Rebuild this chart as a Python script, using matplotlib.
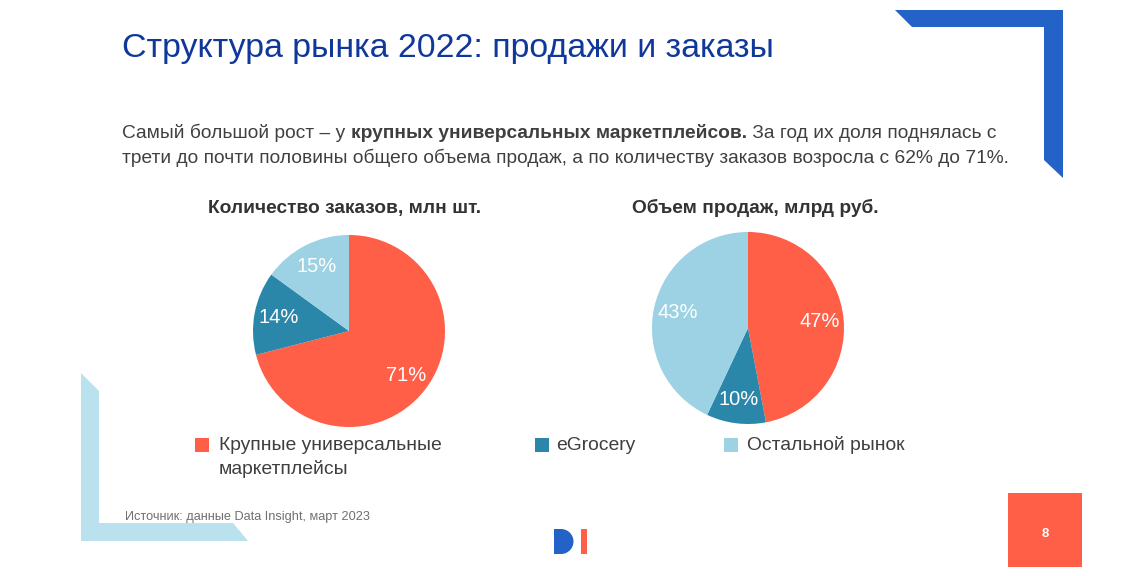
import matplotlib.pyplot as plt
from matplotlib.patches import Polygon, Rectangle, Wedge

W, H = 1122, 576

# данные
segments = ["Крупные универсальные\nмаркетплейсы", "eGrocery", "Остальной рынок"]
orders_share = [71, 14, 15]     # Количество заказов, %
sales_share = [47, 10, 43]      # Объем продаж, %
colors = ["#FF5E47", "#2B87AA", "#9CD2E4"]

title = "Структура рынка 2022: продажи и заказы"
pie_titles = ["Количество заказов, млн шт.", "Объем продаж, млрд руб."]
source = "Источник: данные Data Insight, март 2023"

plt.rcParams['font.family'] = ['Liberation Sans', 'DejaVu Sans']

fig = plt.figure(figsize=(W / 100, H / 100), dpi=100)
fig.patch.set_facecolor("white")

# фоновая ось в пикселях
bg = fig.add_axes([0, 0, 1, 1])
bg.set_xlim(0, W)
bg.set_ylim(H, 0)
bg.axis("off")

# декор: синий уголок справа сверху
bg.add_patch(Polygon([(895, 10), (1063, 10), (1063, 178), (1044, 160), (1044, 27), (912, 27)],
                     closed=True, color="#2362C7", lw=0))
# голубой уголок слева снизу
bg.add_patch(Polygon([(81, 373), (99, 391), (99, 523), (233, 523), (248, 541), (81, 541)],
                     closed=True, color="#B9E1EE", lw=0))

# заголовок и текст
bg.text(122, 48, title, fontsize=24.4, color="#10379A", va="center", ha="left")
tc = "#3F3F3F"
fs = 13.8
line1 = bg.text(122, 133, "Самый большой рост – у ", fontsize=fs, color=tc, va="center")
fig.canvas.draw()
x_bold = 122 + line1.get_window_extent().width
b = bg.text(x_bold, 133, "крупных универсальных маркетплейсов.", fontsize=fs, color=tc,
            va="center", fontweight="bold")
fig.canvas.draw()
x_rest = x_bold + b.get_window_extent().width
bg.text(x_rest, 133, " За год их доля поднялась с", fontsize=fs, color=tc, va="center")
bg.text(122, 158, "трети до почти половины общего объема продаж, а по количеству заказов возросла с 62% до 71%.",
        fontsize=fs, color=tc, va="center")

# подписи графиков
for cx, t in zip([345, 755], pie_titles):
    bg.text(cx, 208, t, fontsize=13.8, color="#333333", fontweight="bold", ha="center", va="center")

# круговые диаграммы
boxes = [(253, 235), (652, 232)]
for (px, py), vals in zip(boxes, [orders_share, sales_share]):
    ax = fig.add_axes([px / W, 1 - (py + 192) / H, 192 / W, 192 / H])
    ax.pie(vals, colors=colors, startangle=90, counterclock=False,
           autopct=lambda p: f"{p:.0f}%", pctdistance=0.75,
           textprops=dict(color="white", fontsize=14.5),
           wedgeprops=dict(linewidth=0))
    ax.set_xlim(-1, 1)
    ax.set_ylim(-1, 1)
    ax.set_aspect("equal")
    ax.axis("off")

# легенда
leg_pos = [(195, 219), (535, 556), (724, 747)]
for (sx, tx), lab, c in zip(leg_pos, segments, colors):
    bg.add_patch(Rectangle((sx, 438), 14, 14, color=c, lw=0))
    if "\n" in lab:
        bg.text(tx, 437.5, lab, fontsize=13.9, color=tc, va="top", linespacing=1.4)
    else:
        bg.text(tx, 445, lab, fontsize=13.9, color=tc, va="center")

bg.text(125, 517, source, fontsize=9.2, color="#707070", va="center")

# логотип DI
bg.add_patch(Rectangle((554, 529), 8, 25, color="#2362C7", lw=0))
bg.add_patch(Wedge((561, 541.5), 12.5, -90, 90, color="#2362C7", lw=0))
bg.add_patch(Rectangle((581, 529), 6, 25, color="#FF5E47", lw=0))

# номер страницы
bg.add_patch(Rectangle((1008, 493), 74, 74, color="#FF5E47", lw=0))
bg.text(1045, 534, "8", fontsize=9.5, color="white", fontweight="bold", ha="center", va="center")

fig.savefig("out.png", dpi=100)
